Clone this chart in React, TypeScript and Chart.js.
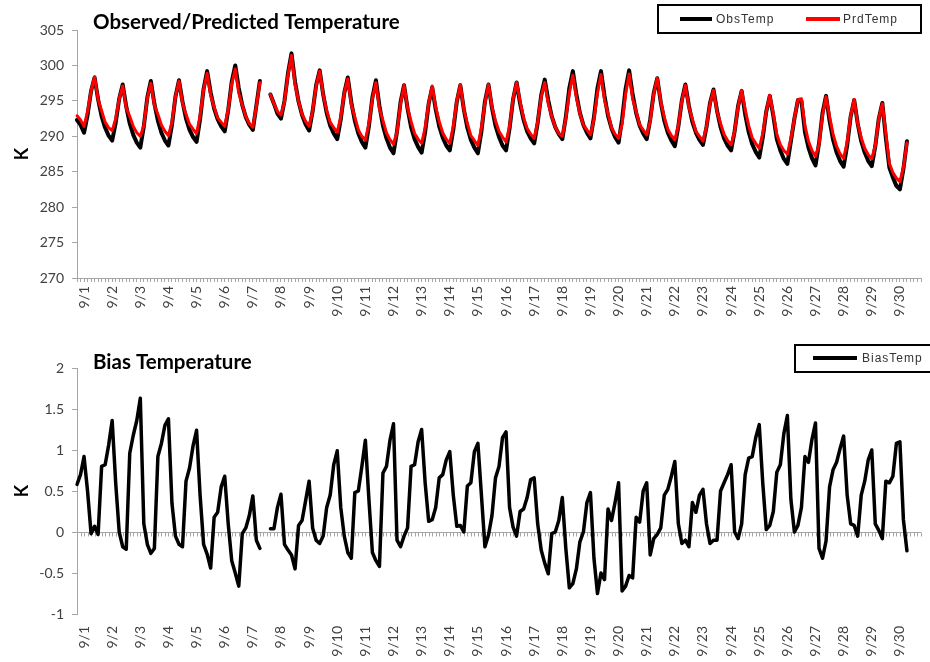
import { useEffect, useRef } from "react";
import { Chart, registerables } from "chart.js";

Chart.register(...registerables);

const dayLabels = [
  "9/1", "9/2", "9/3", "9/4", "9/5", "9/6", "9/7", "9/8", "9/9", "9/10",
  "9/11", "9/12", "9/13", "9/14", "9/15", "9/16", "9/17", "9/18", "9/19", "9/20",
  "9/21", "9/22", "9/23", "9/24", "9/25", "9/26", "9/27", "9/28", "9/29", "9/30",
];
const hourSlots = ["00:00", "03:00", "06:00", "09:00", "12:00", "15:00", "18:00", "21:00"];
const leadSlots = ["8/31 18:00", "8/31 21:00"];

const obsTemp = [
  292.3, 291.6, 290.5, 293.0, 296.4, 298.3, 295.2, 292.8,
  291.2, 290.1, 289.4, 291.9, 295.3, 297.3, 294.2, 291.8,
  290.2, 289.1, 288.4, 291.4, 295.5, 297.8, 294.6, 292.2,
  290.5, 289.4, 288.7, 291.6, 295.6, 297.9, 294.9, 292.5,
  290.9, 289.9, 289.2, 292.4, 296.7, 299.2, 296.2, 293.9,
  292.4, 291.4, 290.7, 293.7, 297.7, 300.0, 296.8, 294.4,
  292.7, 291.6, 290.9, 294.3, 297.8, null, null, 295.9,
  294.6, 293.2, 292.5, 295.0, 298.9, 301.7, 297.7, 294.9,
  293.0, 291.7, 290.8, 293.5, 297.2, 299.3, 295.9, 293.3,
  291.5, 290.4, 289.6, 292.4, 296.1, 298.3, 294.8, 292.2,
  290.4, 289.2, 288.4, 291.4, 295.5, 297.9, 294.3, 291.5,
  289.7, 288.4, 287.6, 290.7, 294.8, 297.2, 293.9, 291.3,
  289.6, 288.5, 287.7, 290.6, 294.6, 296.9, 293.8, 291.4,
  289.8, 288.7, 288.0, 290.9, 294.9, 297.2, 293.8, 291.2,
  289.5, 288.4, 287.6, 290.7, 294.9, 297.3, 294.0, 291.5,
  289.9, 288.7, 288.0, 291.1, 295.2, 297.6, 294.6, 292.3,
  290.7, 289.7, 289.0, 291.9, 295.8, 298.0, 295.1, 292.8,
  291.3, 290.3, 289.6, 292.7, 296.8, 299.2, 295.9, 293.3,
  291.6, 290.5, 289.7, 292.7, 296.8, 299.2, 295.7, 292.9,
  291.1, 289.9, 289.1, 292.4, 296.7, 299.3, 295.9, 293.3,
  291.5, 290.4, 289.6, 292.4, 296.1, 298.2, 294.8, 292.2,
  290.5, 289.4, 288.6, 291.4, 295.1, 297.3, 294.3, 292.0,
  290.5, 289.5, 288.8, 291.3, 294.7, 296.6, 293.6, 291.3,
  289.7, 288.7, 288.0, 290.7, 294.3, 296.4, 293.1, 290.6,
  288.9, 287.8, 287.0, 289.8, 293.5, 295.7, 292.9, 289.6,
  288.0, 286.8, 286.1, 289.3, 292.5, 295.1, 295.0, 290.6,
  288.4, 286.9, 285.9, 289.0, 293.3, 295.7, 292.2, 289.5,
  287.7, 286.5, 285.7, 288.7, 292.8, 295.1, 291.8, 289.3,
  287.7, 286.5, 285.8, 288.6, 292.5, 294.7, 289.8, 285.6,
  284.2, 283.0, 282.5, 285.4, 289.3, null, null, null,
  null,
];

const prdTemp = [
  292.9, 292.3, 291.4, 293.5, 296.4, 298.4, 295.2, 293.6,
  292.0, 291.2, 290.8, 292.5, 295.3, 297.1, 294.0, 292.8,
  291.4, 290.5, 290.0, 291.5, 295.4, 297.5, 294.4, 293.1,
  291.6, 290.7, 290.1, 292.0, 295.6, 297.8, 294.7, 293.1,
  291.7, 291.0, 290.4, 292.9, 296.6, 298.9, 295.8, 294.1,
  292.6, 292.0, 291.4, 293.8, 297.4, 299.5, 296.1, 294.4,
  292.8, 291.8, 291.3, 294.2, 297.6, null, null, 295.9,
  294.6, 293.5, 293.0, 294.9, 298.7, 301.4, 297.3, 295.0,
  293.1, 292.1, 291.4, 293.6, 297.1, 299.2, 295.9, 293.6,
  292.0, 291.2, 290.6, 292.7, 296.1, 298.1, 294.5, 292.7,
  290.9, 290.0, 289.5, 291.8, 295.3, 297.6, 293.9, 292.2,
  290.5, 289.5, 288.9, 290.6, 294.6, 297.2, 294.0, 292.1,
  290.4, 289.6, 289.0, 291.2, 294.7, 297.1, 294.1, 292.1,
  290.5, 289.6, 289.0, 291.4, 295.0, 297.3, 293.8, 291.8,
  290.1, 289.4, 288.7, 291.2, 294.7, 297.3, 294.2, 292.2,
  290.7, 289.9, 289.2, 291.4, 295.3, 297.6, 294.9, 292.6,
  291.1, 290.3, 289.7, 292.0, 295.6, 297.6, 294.6, 292.8,
  291.3, 290.4, 290.0, 292.5, 296.1, 298.6, 295.5, 293.2,
  291.6, 290.9, 290.2, 292.4, 296.1, 298.7, 295.1, 293.2,
  291.2, 290.3, 289.7, 291.7, 296.0, 298.8, 295.3, 293.5,
  291.6, 290.9, 290.2, 292.1, 296.0, 298.2, 294.9, 292.7,
  291.0, 290.1, 289.5, 291.5, 295.0, 297.2, 294.1, 292.4,
  290.7, 290.0, 289.3, 291.4, 294.6, 296.5, 293.5, 291.8,
  290.3, 289.4, 288.8, 290.7, 294.2, 296.5, 293.8, 291.5,
  289.8, 289.0, 288.3, 290.4, 293.5, 295.8, 293.2, 290.3,
  288.8, 288.0, 287.5, 289.7, 292.5, 295.2, 295.3, 291.5,
  289.3, 288.0, 287.2, 288.8, 293.0, 295.6, 292.8, 290.3,
  288.6, 287.5, 286.9, 289.2, 292.9, 295.2, 291.8, 289.8,
  288.3, 287.4, 286.8, 288.7, 292.5, 294.6, 290.4, 286.2,
  284.9, 284.1, 283.6, 285.6, 289.1, null, null, null,
  null,
];

const biasTemp = [
  0.58, 0.70, 0.92, 0.50, -0.02, 0.07, -0.03, 0.80,
  0.82, 1.06, 1.36, 0.60, 0.00, -0.18, -0.21, 0.96,
  1.18, 1.36, 1.63, 0.10, -0.15, -0.26, -0.20, 0.92,
  1.08, 1.30, 1.38, 0.35, -0.05, -0.15, -0.18, 0.62,
  0.78, 1.05, 1.24, 0.45, -0.15, -0.27, -0.44, 0.18,
  0.24, 0.55, 0.68, 0.10, -0.35, -0.50, -0.66, -0.02,
  0.05, 0.20, 0.44, -0.10, -0.20, null, null, 0.04,
  0.04, 0.30, 0.46, -0.15, -0.22, -0.28, -0.45, 0.08,
  0.14, 0.38, 0.62, 0.05, -0.10, -0.14, -0.05, 0.30,
  0.45, 0.82, 0.99, 0.30, -0.05, -0.25, -0.32, 0.48,
  0.50, 0.80, 1.12, 0.40, -0.25, -0.35, -0.42, 0.72,
  0.80, 1.12, 1.32, -0.10, -0.18, -0.05, 0.05, 0.80,
  0.82, 1.10, 1.25, 0.60, 0.13, 0.15, 0.30, 0.66,
  0.70, 0.88, 0.98, 0.45, 0.07, 0.08, 0.00, 0.56,
  0.60, 0.98, 1.08, 0.45, -0.18, -0.04, 0.20, 0.66,
  0.80, 1.15, 1.22, 0.30, 0.06, -0.05, 0.25, 0.28,
  0.42, 0.64, 0.66, 0.10, -0.22, -0.38, -0.51, -0.02,
  0.00, 0.14, 0.42, -0.20, -0.68, -0.63, -0.45, -0.12,
  0.00, 0.36, 0.48, -0.32, -0.75, -0.50, -0.58, 0.28,
  0.14, 0.36, 0.60, -0.72, -0.66, -0.53, -0.56, 0.18,
  0.12, 0.50, 0.60, -0.28, -0.08, -0.03, 0.05, 0.45,
  0.52, 0.68, 0.86, 0.10, -0.14, -0.10, -0.18, 0.36,
  0.24, 0.45, 0.52, 0.10, -0.14, -0.10, -0.10, 0.50,
  0.60, 0.70, 0.82, 0.00, -0.08, 0.10, 0.70, 0.90,
  0.92, 1.15, 1.31, 0.60, 0.03, 0.08, 0.25, 0.73,
  0.82, 1.20, 1.42, 0.40, 0.00, 0.08, 0.30, 0.92,
  0.85, 1.13, 1.33, -0.20, -0.32, -0.11, 0.55, 0.76,
  0.85, 1.02, 1.17, 0.45, 0.10, 0.08, -0.05, 0.45,
  0.62, 0.88, 1.00, 0.10, 0.02, -0.08, 0.62, 0.60,
  0.68, 1.08, 1.10, 0.15, -0.23, null, null, null,
  null,
];

const tempTicks = { min: 270, max: 305, step: 5 };
const biasTicks = { min: -1, max: 2, step: 0.5 };

const categories: string[] = [
  ...leadSlots,
  ...dayLabels.flatMap((d) => hourSlots.map((h) => `${d} ${h}`)),
].slice(0, obsTemp.length);

const AXIS = "#a6a6a6";
const TICK_COLOR = "#404040";
const FONT = "Lato, 'Open Sans', 'DejaVu Sans', sans-serif";
const LEGEND_FONT = "'Liberation Sans Narrow', 'Liberation Sans', Arial, sans-serif";

const dayTick = (_v: any, index: number) => {
  const c = categories[index] || "";
  return c.endsWith(" " + hourSlots[0]) ? c.split(" ")[0] : "";
};

const decorPlugin = {
  id: "decor",
  afterDraw(chart: any, _args: any, opts: any) {
    const ctx = chart.ctx as CanvasRenderingContext2D;
    ctx.save();
    ctx.fillStyle = "#000";
    ctx.font = `bold ${opts.titleSize}px ${FONT}`;
    ctx.textAlign = "left";
    ctx.textBaseline = "middle";
    ctx.fillText(opts.title, opts.titleX, opts.titleY);

    const b = opts.box;
    ctx.strokeStyle = "#000";
    ctx.lineWidth = 2;
    ctx.strokeRect(b.x, b.y, b.w, b.h);

    ctx.font = `${opts.legendSize}px ${LEGEND_FONT}`;
    (ctx as any).letterSpacing = "1px";
    chart.data.datasets.forEach((ds: any, k: number) => {
      const it = opts.items[k];
      if (!it) return;
      ctx.strokeStyle = ds.borderColor;
      ctx.lineWidth = 4;
      ctx.beginPath();
      ctx.moveTo(it.x1, opts.lineY);
      ctx.lineTo(it.x2, opts.lineY);
      ctx.stroke();
      ctx.fillStyle = "#333";
      ctx.textBaseline = "middle";
      ctx.fillText(ds.label, it.tx, opts.lineY + 1);
    });
    ctx.restore();
  },
};

const zeroAxisPlugin = {
  id: "zeroAxis",
  beforeDatasetsDraw(chart: any, _args: any, opts: any) {
    if (!opts || !opts.enabled) return;
    const { ctx, chartArea, scales } = chart;
    const y = Math.round(scales.y.getPixelForValue(0)) + 0.5;
    ctx.save();
    ctx.strokeStyle = AXIS;
    ctx.lineWidth = 1;
    ctx.beginPath();
    ctx.moveTo(chartArea.left, y);
    ctx.lineTo(chartArea.right, y);
    const n = chart.data.labels.length;
    for (let i = 0; i < n; i++) {
      const x = Math.round(scales.x.getPixelForValue(i)) + 0.5;
      ctx.moveTo(x, y);
      ctx.lineTo(x, y + 4);
    }
    ctx.stroke();
    ctx.restore();
  },
};

function yAxis(t: { min: number; max: number; step: number }) {
  return {
    min: t.min,
    max: t.max,
    ticks: {
      stepSize: t.step,
      padding: 8,
      color: TICK_COLOR,
      font: { family: FONT, size: 14 },
      callback: (v: any) => String(v),
    },
    grid: { drawOnChartArea: false, drawTicks: true, tickLength: 5, color: AXIS },
    border: { display: true, color: AXIS },
    title: {
      display: true,
      text: "K",
      color: "#000",
      font: { family: FONT, size: 18, weight: "bold" as const },
      padding: { top: 11, bottom: 0 },
    },
    afterFit: (s: any) => {
      s.width = 77;
      s.paddingTop = 0;
      s.paddingBottom = 0;
    },
  };
}

function xAxis(showAxis: boolean, height: number) {
  return {
    type: "category" as const,
    offset: false,
    grid: { display: showAxis, drawOnChartArea: false, drawTicks: true, tickLength: 4, color: AXIS },
    border: { display: showAxis, color: AXIS },
    ticks: {
      autoSkip: false,
      minRotation: 90,
      maxRotation: 90,
      padding: showAxis ? 4 : 8,
      color: TICK_COLOR,
      font: { family: FONT, size: 14 },
      callback: dayTick,
    },
    afterFit: (s: any) => {
      s.height = height;
      s.paddingLeft = 0;
      s.paddingRight = 0;
    },
  };
}

function ChartCanvas({ height, build }: { height: number; build: () => any }) {
  const ref = useRef<HTMLCanvasElement | null>(null);
  useEffect(() => {
    if (!ref.current) return;
    const chart = new Chart(ref.current, build());
    return () => chart.destroy();
  }, []);
  return <canvas ref={ref} width={930} height={height} style={{ display: "block", width: 930, height }} />;
}

const buildTop = () => ({
  type: "line",
  data: {
    labels: categories,
    datasets: [
      { label: "ObsTemp", data: obsTemp, borderColor: "#000000", borderWidth: 4, pointRadius: 0, order: 1, borderJoinStyle: "round", borderCapStyle: "round" },
      { label: "PrdTemp", data: prdTemp, borderColor: "#ff0000", borderWidth: 3, pointRadius: 0, order: 0, borderJoinStyle: "round", borderCapStyle: "round" },
    ],
  },
  options: {
    responsive: false,
    animation: false,
    devicePixelRatio: 1,
    events: [],
    layout: { padding: { left: 0, right: 9, top: 30, bottom: 0 } },
    plugins: {
      legend: { display: false },
      tooltip: { enabled: false },
      decor: {
        title: "Observed/Predicted Temperature",
        titleSize: 20.5,
        titleX: 93,
        titleY: 22,
        box: { x: 658, y: 5, w: 263, h: 28 },
        lineY: 19,
        legendSize: 12,
        items: [
          { x1: 680, x2: 712, tx: 716 },
          { x1: 806, x2: 840, tx: 843 },
        ],
      },
    },
    scales: { x: xAxis(true, 57), y: yAxis(tempTicks) },
  },
  plugins: [decorPlugin],
});

const buildBottom = () => ({
  type: "line",
  data: {
    labels: categories,
    datasets: [
      { label: "BiasTemp", data: biasTemp, borderColor: "#000000", borderWidth: 3.5, pointRadius: 0, borderJoinStyle: "round", borderCapStyle: "round" },
    ],
  },
  options: {
    responsive: false,
    animation: false,
    devicePixelRatio: 1,
    events: [],
    layout: { padding: { left: 0, right: 9, top: 33, bottom: 0 } },
    plugins: {
      legend: { display: false },
      tooltip: { enabled: false },
      zeroAxis: { enabled: true },
      decor: {
        title: "Bias Temperature",
        titleSize: 20.5,
        titleX: 93,
        titleY: 27,
        box: { x: 795, y: 10, w: 140, h: 27 },
        lineY: 23,
        legendSize: 12,
        items: [{ x1: 813, x2: 857, tx: 862 }],
      },
    },
    scales: { x: xAxis(false, 48), y: yAxis(biasTicks) },
  },
  plugins: [decorPlugin, zeroAxisPlugin],
});

export default function App() {
  return (
    <div style={{ position: "absolute", left: 0, top: 0, width: 930, height: 662, background: "#fff" }}>
      <ChartCanvas height={335} build={buildTop} />
      <ChartCanvas height={327} build={buildBottom} />
    </div>
  );
}
